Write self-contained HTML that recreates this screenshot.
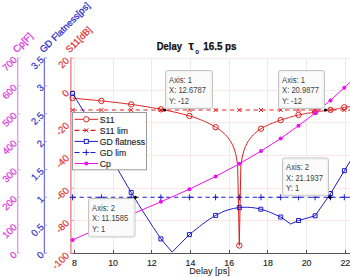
<!DOCTYPE html><html><head><meta charset="utf-8"><style>html,body{margin:0;padding:0;background:#fff;width:350px;height:277px;overflow:hidden}svg{display:block}text{font-family:"Liberation Sans",sans-serif}</style></head><body>
<svg width="350" height="277" viewBox="0 0 350 277">
<rect width="350" height="277" fill="#fff"/>
<g shape-rendering="crispEdges">
<line x1="74.5" y1="58" x2="74.5" y2="253" stroke="#ebebeb" stroke-width="1"/>
<line x1="113.5" y1="58" x2="113.5" y2="253" stroke="#ebebeb" stroke-width="1"/>
<line x1="151.5" y1="58" x2="151.5" y2="253" stroke="#ebebeb" stroke-width="1"/>
<line x1="190.5" y1="58" x2="190.5" y2="253" stroke="#ebebeb" stroke-width="1"/>
<line x1="229.5" y1="58" x2="229.5" y2="253" stroke="#ebebeb" stroke-width="1"/>
<line x1="267.5" y1="58" x2="267.5" y2="253" stroke="#ebebeb" stroke-width="1"/>
<line x1="306.5" y1="58" x2="306.5" y2="253" stroke="#ebebeb" stroke-width="1"/>
<line x1="345.5" y1="58" x2="345.5" y2="253" stroke="#ebebeb" stroke-width="1"/>
<line x1="72" y1="58.5" x2="350" y2="58.5" stroke="#fce6e6" stroke-width="1"/>
<line x1="72" y1="90.5" x2="350" y2="90.5" stroke="#fce6e6" stroke-width="1"/>
<line x1="72" y1="122.5" x2="350" y2="122.5" stroke="#fce6e6" stroke-width="1"/>
<line x1="72" y1="155.5" x2="350" y2="155.5" stroke="#fce6e6" stroke-width="1"/>
<line x1="72" y1="188.5" x2="350" y2="188.5" stroke="#fce6e6" stroke-width="1"/>
<line x1="72" y1="220.5" x2="350" y2="220.5" stroke="#fce6e6" stroke-width="1"/>
</g>
<g shape-rendering="crispEdges"><line x1="71" y1="253.5" x2="350" y2="253.5" stroke="#555" stroke-width="1"/>
<line x1="74.5" y1="250" x2="74.5" y2="253" stroke="#555" stroke-width="1"/>
<line x1="113.5" y1="250" x2="113.5" y2="253" stroke="#555" stroke-width="1"/>
<line x1="151.5" y1="250" x2="151.5" y2="253" stroke="#555" stroke-width="1"/>
<line x1="190.5" y1="250" x2="190.5" y2="253" stroke="#555" stroke-width="1"/>
<line x1="229.5" y1="250" x2="229.5" y2="253" stroke="#555" stroke-width="1"/>
<line x1="267.5" y1="250" x2="267.5" y2="253" stroke="#555" stroke-width="1"/>
<line x1="306.5" y1="250" x2="306.5" y2="253" stroke="#555" stroke-width="1"/>
<line x1="345.5" y1="250" x2="345.5" y2="253" stroke="#555" stroke-width="1"/>
</g>
<g><line x1="70.9" y1="57.6" x2="70.9" y2="254" stroke="#ec7a82" stroke-width="1.3"/><line x1="70.9" y1="58.00" x2="73.7" y2="58.00" stroke="#f0a0a0" stroke-width="1"/><line x1="70.9" y1="90.50" x2="73.7" y2="90.50" stroke="#f0a0a0" stroke-width="1"/><line x1="70.9" y1="123.00" x2="73.7" y2="123.00" stroke="#f0a0a0" stroke-width="1"/><line x1="70.9" y1="155.50" x2="73.7" y2="155.50" stroke="#f0a0a0" stroke-width="1"/><line x1="70.9" y1="188.00" x2="73.7" y2="188.00" stroke="#f0a0a0" stroke-width="1"/><line x1="70.9" y1="220.50" x2="73.7" y2="220.50" stroke="#f0a0a0" stroke-width="1"/><line x1="70.9" y1="253.00" x2="73.7" y2="253.00" stroke="#f0a0a0" stroke-width="1"/></g>
<g><line x1="44.4" y1="57.6" x2="44.4" y2="254" stroke="#7474da" stroke-width="1.3"/><line x1="44.4" y1="58.00" x2="47.199999999999996" y2="58.00" stroke="#a0a0e6" stroke-width="1"/><line x1="44.4" y1="85.86" x2="47.199999999999996" y2="85.86" stroke="#a0a0e6" stroke-width="1"/><line x1="44.4" y1="113.71" x2="47.199999999999996" y2="113.71" stroke="#a0a0e6" stroke-width="1"/><line x1="44.4" y1="141.57" x2="47.199999999999996" y2="141.57" stroke="#a0a0e6" stroke-width="1"/><line x1="44.4" y1="169.43" x2="47.199999999999996" y2="169.43" stroke="#a0a0e6" stroke-width="1"/><line x1="44.4" y1="197.29" x2="47.199999999999996" y2="197.29" stroke="#a0a0e6" stroke-width="1"/><line x1="44.4" y1="225.14" x2="47.199999999999996" y2="225.14" stroke="#a0a0e6" stroke-width="1"/><line x1="44.4" y1="253.00" x2="47.199999999999996" y2="253.00" stroke="#a0a0e6" stroke-width="1"/></g>
<g><line x1="17.7" y1="57.6" x2="17.7" y2="254" stroke="#dc98e8" stroke-width="1.3"/><line x1="17.7" y1="58.00" x2="20.5" y2="58.00" stroke="#e8b8ee" stroke-width="1"/><line x1="17.7" y1="85.86" x2="20.5" y2="85.86" stroke="#e8b8ee" stroke-width="1"/><line x1="17.7" y1="113.71" x2="20.5" y2="113.71" stroke="#e8b8ee" stroke-width="1"/><line x1="17.7" y1="141.57" x2="20.5" y2="141.57" stroke="#e8b8ee" stroke-width="1"/><line x1="17.7" y1="169.43" x2="20.5" y2="169.43" stroke="#e8b8ee" stroke-width="1"/><line x1="17.7" y1="197.29" x2="20.5" y2="197.29" stroke="#e8b8ee" stroke-width="1"/><line x1="17.7" y1="225.14" x2="20.5" y2="225.14" stroke="#e8b8ee" stroke-width="1"/><line x1="17.7" y1="253.00" x2="20.5" y2="253.00" stroke="#e8b8ee" stroke-width="1"/></g>
<text transform="translate(67.2,58.8) rotate(-45)" text-anchor="end" dominant-baseline="central" font-size="9.6" fill="#e03030" stroke="#e03030" stroke-width="0.18">20</text>
<text transform="translate(67.2,91.3) rotate(-45)" text-anchor="end" dominant-baseline="central" font-size="9.6" fill="#e03030" stroke="#e03030" stroke-width="0.18">0</text>
<text transform="translate(67.2,123.8) rotate(-45)" text-anchor="end" dominant-baseline="central" font-size="9.6" fill="#e03030" stroke="#e03030" stroke-width="0.18">-20</text>
<text transform="translate(67.2,156.3) rotate(-45)" text-anchor="end" dominant-baseline="central" font-size="9.6" fill="#e03030" stroke="#e03030" stroke-width="0.18">-40</text>
<text transform="translate(67.2,188.8) rotate(-45)" text-anchor="end" dominant-baseline="central" font-size="9.6" fill="#e03030" stroke="#e03030" stroke-width="0.18">-60</text>
<text transform="translate(67.2,221.3) rotate(-45)" text-anchor="end" dominant-baseline="central" font-size="9.6" fill="#e03030" stroke="#e03030" stroke-width="0.18">-80</text>
<text transform="translate(67.2,253.8) rotate(-45)" text-anchor="end" dominant-baseline="central" font-size="9.6" fill="#e03030" stroke="#e03030" stroke-width="0.18">-100</text>
<text transform="translate(42,58.0) rotate(-45)" text-anchor="end" dominant-baseline="central" font-size="9.6" fill="#3030c0" stroke="#3030c0" stroke-width="0.18">3.5</text>
<text transform="translate(42,85.85714285714286) rotate(-45)" text-anchor="end" dominant-baseline="central" font-size="9.6" fill="#3030c0" stroke="#3030c0" stroke-width="0.18">3</text>
<text transform="translate(42,113.71428571428572) rotate(-45)" text-anchor="end" dominant-baseline="central" font-size="9.6" fill="#3030c0" stroke="#3030c0" stroke-width="0.18">2.5</text>
<text transform="translate(42,141.57142857142856) rotate(-45)" text-anchor="end" dominant-baseline="central" font-size="9.6" fill="#3030c0" stroke="#3030c0" stroke-width="0.18">2</text>
<text transform="translate(42,169.42857142857144) rotate(-45)" text-anchor="end" dominant-baseline="central" font-size="9.6" fill="#3030c0" stroke="#3030c0" stroke-width="0.18">1.5</text>
<text transform="translate(42,197.28571428571428) rotate(-45)" text-anchor="end" dominant-baseline="central" font-size="9.6" fill="#3030c0" stroke="#3030c0" stroke-width="0.18">1</text>
<text transform="translate(42,225.14285714285714) rotate(-45)" text-anchor="end" dominant-baseline="central" font-size="9.6" fill="#3030c0" stroke="#3030c0" stroke-width="0.18">0.5</text>
<text transform="translate(42,253.0) rotate(-45)" text-anchor="end" dominant-baseline="central" font-size="9.6" fill="#3030c0" stroke="#3030c0" stroke-width="0.18">0</text>
<text transform="translate(15,58.0) rotate(-45)" text-anchor="end" dominant-baseline="central" font-size="9.6" fill="#e030e0" stroke="#e030e0" stroke-width="0.18">700</text>
<text transform="translate(15,85.85714285714286) rotate(-45)" text-anchor="end" dominant-baseline="central" font-size="9.6" fill="#e030e0" stroke="#e030e0" stroke-width="0.18">600</text>
<text transform="translate(15,113.71428571428572) rotate(-45)" text-anchor="end" dominant-baseline="central" font-size="9.6" fill="#e030e0" stroke="#e030e0" stroke-width="0.18">500</text>
<text transform="translate(15,141.57142857142856) rotate(-45)" text-anchor="end" dominant-baseline="central" font-size="9.6" fill="#e030e0" stroke="#e030e0" stroke-width="0.18">400</text>
<text transform="translate(15,169.42857142857144) rotate(-45)" text-anchor="end" dominant-baseline="central" font-size="9.6" fill="#e030e0" stroke="#e030e0" stroke-width="0.18">300</text>
<text transform="translate(15,197.28571428571428) rotate(-45)" text-anchor="end" dominant-baseline="central" font-size="9.6" fill="#e030e0" stroke="#e030e0" stroke-width="0.18">200</text>
<text transform="translate(15,225.14285714285714) rotate(-45)" text-anchor="end" dominant-baseline="central" font-size="9.6" fill="#e030e0" stroke="#e030e0" stroke-width="0.18">100</text>
<text transform="translate(15,253.0) rotate(-45)" text-anchor="end" dominant-baseline="central" font-size="9.6" fill="#e030e0" stroke="#e030e0" stroke-width="0.18">0</text>
<text transform="translate(69.5,53.3) rotate(-45)" font-size="9.3" fill="#e03030" stroke="#e03030" stroke-width="0.25">S11[dB]</text>
<text transform="translate(43.5,53.3) rotate(-45)" font-size="9.3" fill="#2a2ac8" stroke="#2a2ac8" stroke-width="0.25">GD Flatness[ps]</text>
<text transform="translate(16.8,53.3) rotate(-45)" font-size="9.6" fill="#e030e0" stroke="#e030e0" stroke-width="0.25">Cp[F]</text>
<text x="74.4" y="266.3" text-anchor="middle" font-size="8.8" fill="#262626" stroke="#262626" stroke-width="0.15">8</text>
<text x="113.1" y="266.3" text-anchor="middle" font-size="8.8" fill="#262626" stroke="#262626" stroke-width="0.15">10</text>
<text x="151.8" y="266.3" text-anchor="middle" font-size="8.8" fill="#262626" stroke="#262626" stroke-width="0.15">12</text>
<text x="190.5" y="266.3" text-anchor="middle" font-size="8.8" fill="#262626" stroke="#262626" stroke-width="0.15">14</text>
<text x="229.2" y="266.3" text-anchor="middle" font-size="8.8" fill="#262626" stroke="#262626" stroke-width="0.15">16</text>
<text x="267.9" y="266.3" text-anchor="middle" font-size="8.8" fill="#262626" stroke="#262626" stroke-width="0.15">18</text>
<text x="306.6" y="266.3" text-anchor="middle" font-size="8.8" fill="#262626" stroke="#262626" stroke-width="0.15">20</text>
<text x="345.3" y="266.3" text-anchor="middle" font-size="8.8" fill="#262626" stroke="#262626" stroke-width="0.15">22</text>
<text x="209.5" y="274" text-anchor="middle" font-size="9.1" fill="#262626" stroke="#262626" stroke-width="0.08">Delay [ps]</text>
<text x="156.8" y="50" font-size="10.5" font-weight="bold" fill="#111" stroke="#111" stroke-width="0.25" textLength="25.2" lengthAdjust="spacingAndGlyphs">Delay</text>
<text x="188.6" y="50" font-size="12" font-weight="bold" fill="#111" stroke="#111" stroke-width="0.15">τ</text>
<text x="195.3" y="54" font-size="6.3" font-weight="bold" fill="#111">o</text>
<text x="203.2" y="49.8" font-size="10.5" font-weight="bold" fill="#111" stroke="#111" stroke-width="0.25" textLength="33.4" lengthAdjust="spacingAndGlyphs">16.5 ps</text>
<defs><clipPath id="c"><rect x="66" y="54" width="290" height="203"/></clipPath></defs>
<g clip-path="url(#c)" fill="none" stroke-linejoin="round">
<polyline points="72.60,98.10 74.66,98.29 76.71,98.47 78.77,98.66 80.83,98.86 82.89,99.05 84.94,99.25 87.00,99.45 89.06,99.65 91.11,99.85 93.17,100.05 95.23,100.26 97.29,100.47 99.34,100.68 101.40,100.90 103.53,101.13 105.66,101.35 107.79,101.58 109.91,101.82 112.04,102.06 114.17,102.30 116.30,102.54 118.43,102.79 120.56,103.05 122.69,103.31 124.81,103.57 126.94,103.84 129.07,104.12 131.20,104.40 133.32,104.69 135.44,104.99 137.56,105.30 139.69,105.63 141.81,105.96 143.93,106.30 146.05,106.65 148.17,107.00 150.29,107.37 152.41,107.74 154.54,108.12 156.66,108.51 158.78,108.90 160.90,109.30 162.94,109.69 164.97,110.09 167.01,110.49 169.04,110.91 171.08,111.34 173.11,111.78 175.15,112.23 177.19,112.70 179.22,113.18 181.26,113.69 183.29,114.21 185.33,114.75 187.36,115.31 189.40,115.90 191.27,116.47 193.14,117.06 195.01,117.68 196.89,118.34 198.76,119.02 200.63,119.74 202.50,120.50 204.37,121.30 206.24,122.14 208.11,123.03 209.99,123.98 211.86,124.98 213.73,126.05 215.60,127.20 217.29,128.25 218.99,129.38 220.68,130.60 222.37,131.95 224.06,133.44 225.76,135.10 227.45,136.98 229.14,139.16 230.84,141.73 232.53,144.88 234.22,148.94 235.91,154.67 237.61,164.45 239.30,245.50 240.85,165.95 242.40,156.17 243.95,150.44 245.50,146.38 247.05,143.23 248.60,140.66 250.15,138.48 251.70,136.60 253.25,134.94 254.80,133.45 256.35,132.10 257.90,130.88 259.45,129.75 261.00,128.70 262.41,127.87 263.81,127.09 265.22,126.36 266.63,125.67 268.04,125.01 269.44,124.38 270.85,123.78 272.26,123.20 273.66,122.65 275.07,122.11 276.48,121.59 277.89,121.08 279.29,120.58 280.70,120.10 281.97,119.67 283.24,119.26 284.51,118.85 285.79,118.45 287.06,118.07 288.33,117.69 289.60,117.33 290.87,116.97 292.14,116.62 293.41,116.28 294.69,115.95 295.96,115.62 297.23,115.31 298.50,115.00 299.69,114.73 300.87,114.47 302.06,114.23 303.24,114.00 304.43,113.78 305.61,113.58 306.80,113.38 307.99,113.19 309.17,113.00 310.36,112.82 311.54,112.64 312.73,112.46 313.91,112.28 315.10,112.10 316.20,111.93 317.30,111.77 318.40,111.61 319.50,111.45 320.60,111.30 321.70,111.15 322.80,111.00 323.90,110.85 325.00,110.70 326.10,110.54 327.20,110.39 328.30,110.23 329.40,110.07 330.50,109.90 331.49,109.74 332.47,109.58 333.46,109.42 334.44,109.24 335.43,109.07 336.41,108.89 337.40,108.70 338.39,108.51 339.37,108.32 340.36,108.12 341.34,107.92 342.33,107.71 343.31,107.51 344.30,107.30 352.00,106.60" stroke="#dc2020" stroke-width="1"/>
<circle cx="72.6" cy="98.1" r="2.7" stroke="#dc2020" stroke-width="1"/>
<circle cx="101.4" cy="100.9" r="2.7" stroke="#dc2020" stroke-width="1"/>
<circle cx="131.2" cy="104.4" r="2.7" stroke="#dc2020" stroke-width="1"/>
<circle cx="160.9" cy="109.3" r="2.7" stroke="#dc2020" stroke-width="1"/>
<circle cx="189.4" cy="115.9" r="2.7" stroke="#dc2020" stroke-width="1"/>
<circle cx="215.6" cy="127.2" r="2.7" stroke="#dc2020" stroke-width="1"/>
<circle cx="239.3" cy="245.5" r="2.7" stroke="#dc2020" stroke-width="1"/>
<circle cx="261.0" cy="128.7" r="2.7" stroke="#dc2020" stroke-width="1"/>
<circle cx="280.7" cy="120.1" r="2.7" stroke="#dc2020" stroke-width="1"/>
<circle cx="298.5" cy="115.0" r="2.7" stroke="#dc2020" stroke-width="1"/>
<circle cx="315.1" cy="112.1" r="2.7" stroke="#dc2020" stroke-width="1"/>
<circle cx="330.5" cy="109.9" r="2.7" stroke="#dc2020" stroke-width="1"/>
<circle cx="344.3" cy="107.3" r="2.7" stroke="#dc2020" stroke-width="1"/>
<line x1="72.6" y1="110" x2="352" y2="110" stroke="#dc2020" stroke-width="1.1" stroke-dasharray="4.3 3.57"/>
<path d="M70.6,108 l4,4 M70.6,112 l4,-4" stroke="#dc2020" stroke-width="1"/>
<path d="M99.4,108 l4,4 M99.4,112 l4,-4" stroke="#dc2020" stroke-width="1"/>
<path d="M129.2,108 l4,4 M129.2,112 l4,-4" stroke="#dc2020" stroke-width="1"/>
<path d="M158.9,108 l4,4 M158.9,112 l4,-4" stroke="#dc2020" stroke-width="1"/>
<path d="M187.4,108 l4,4 M187.4,112 l4,-4" stroke="#dc2020" stroke-width="1"/>
<path d="M213.6,108 l4,4 M213.6,112 l4,-4" stroke="#dc2020" stroke-width="1"/>
<path d="M237.3,108 l4,4 M237.3,112 l4,-4" stroke="#dc2020" stroke-width="1"/>
<path d="M259.0,108 l4,4 M259.0,112 l4,-4" stroke="#dc2020" stroke-width="1"/>
<path d="M278.7,108 l4,4 M278.7,112 l4,-4" stroke="#dc2020" stroke-width="1"/>
<path d="M296.5,108 l4,4 M296.5,112 l4,-4" stroke="#dc2020" stroke-width="1"/>
<path d="M313.1,108 l4,4 M313.1,112 l4,-4" stroke="#dc2020" stroke-width="1"/>
<path d="M328.5,108 l4,4 M328.5,112 l4,-4" stroke="#dc2020" stroke-width="1"/>
<path d="M342.3,108 l4,4 M342.3,112 l4,-4" stroke="#dc2020" stroke-width="1"/>
<polyline points="72.60,93.50 76.21,99.31 79.81,105.13 83.43,110.99 87.04,116.88 90.67,122.84 94.30,128.87 97.94,134.98 101.60,141.20 105.27,147.53 108.95,153.94 112.65,160.40 116.35,166.89 120.06,173.36 123.77,179.80 127.48,186.15 131.20,192.40 134.92,198.52 138.63,204.51 142.34,210.40 146.06,216.21 149.77,221.94 153.48,227.62 157.19,233.27 160.90,238.90 172.10,252.10 189.40,234.60 192.74,231.89 196.08,229.22 199.40,226.60 202.70,224.07 205.98,221.65 209.23,219.38 212.44,217.29 215.60,215.40 218.71,213.74 221.78,212.30 224.80,211.07 227.78,210.03 230.71,209.18 233.61,208.50 236.47,207.98 239.30,207.60 242.10,207.36 244.86,207.25 247.59,207.27 250.29,207.42 252.97,207.69 255.61,208.07 258.22,208.58 260.80,209.20 263.35,209.93 265.88,210.76 268.38,211.67 270.87,212.65 273.34,213.69 275.80,214.77 278.25,215.88 280.70,217.00 290.70,224.00 298.50,220.50 315.10,215.80 330.60,193.50 344.40,170.70 352.00,158.20" stroke="#1c1cc8" stroke-width="1"/>
<rect x="70.6" y="91.5" width="4" height="4" stroke="#1c1cc8" stroke-width="1"/>
<rect x="99.6" y="139.2" width="4" height="4" stroke="#1c1cc8" stroke-width="1"/>
<rect x="129.2" y="190.4" width="4" height="4" stroke="#1c1cc8" stroke-width="1"/>
<rect x="158.9" y="236.9" width="4" height="4" stroke="#1c1cc8" stroke-width="1"/>
<rect x="187.4" y="232.6" width="4" height="4" stroke="#1c1cc8" stroke-width="1"/>
<rect x="213.6" y="213.4" width="4" height="4" stroke="#1c1cc8" stroke-width="1"/>
<rect x="237.3" y="205.6" width="4" height="4" stroke="#1c1cc8" stroke-width="1"/>
<rect x="258.8" y="207.2" width="4" height="4" stroke="#1c1cc8" stroke-width="1"/>
<rect x="278.7" y="215.0" width="4" height="4" stroke="#1c1cc8" stroke-width="1"/>
<rect x="296.5" y="218.5" width="4" height="4" stroke="#1c1cc8" stroke-width="1"/>
<rect x="313.1" y="213.8" width="4" height="4" stroke="#1c1cc8" stroke-width="1"/>
<rect x="328.6" y="191.5" width="4" height="4" stroke="#1c1cc8" stroke-width="1"/>
<rect x="342.4" y="168.7" width="4" height="4" stroke="#1c1cc8" stroke-width="1"/>
<line x1="71.67" y1="197.3" x2="352" y2="197.3" stroke="#1c1cc8" stroke-width="1.1" stroke-dasharray="4.3 3.57"/>
<path d="M69.6,197.3 h6 M72.6,194.3 v6" stroke="#1c1cc8" stroke-width="1"/>
<path d="M98.4,197.3 h6 M101.4,194.3 v6" stroke="#1c1cc8" stroke-width="1"/>
<path d="M128.2,197.3 h6 M131.2,194.3 v6" stroke="#1c1cc8" stroke-width="1"/>
<path d="M157.9,197.3 h6 M160.9,194.3 v6" stroke="#1c1cc8" stroke-width="1"/>
<path d="M186.4,197.3 h6 M189.4,194.3 v6" stroke="#1c1cc8" stroke-width="1"/>
<path d="M212.6,197.3 h6 M215.6,194.3 v6" stroke="#1c1cc8" stroke-width="1"/>
<path d="M236.3,197.3 h6 M239.3,194.3 v6" stroke="#1c1cc8" stroke-width="1"/>
<path d="M258.0,197.3 h6 M261.0,194.3 v6" stroke="#1c1cc8" stroke-width="1"/>
<path d="M277.7,197.3 h6 M280.7,194.3 v6" stroke="#1c1cc8" stroke-width="1"/>
<path d="M295.5,197.3 h6 M298.5,194.3 v6" stroke="#1c1cc8" stroke-width="1"/>
<path d="M312.1,197.3 h6 M315.1,194.3 v6" stroke="#1c1cc8" stroke-width="1"/>
<path d="M327.5,197.3 h6 M330.5,194.3 v6" stroke="#1c1cc8" stroke-width="1"/>
<path d="M341.3,197.3 h6 M344.3,194.3 v6" stroke="#1c1cc8" stroke-width="1"/>
<polyline points="72.60,239.90 101.40,227.21 131.20,214.53 160.90,201.84 189.40,189.16 215.60,176.47 239.30,163.78 261.00,151.10 280.70,138.41 298.50,125.73 315.10,113.04 330.50,100.35 344.30,87.67 352.00,80.59" stroke="#ee10ee" stroke-width="1"/>
<circle cx="72.6" cy="239.9" r="2" fill="#ee10ee" stroke="none"/>
<circle cx="101.4" cy="227.2" r="2" fill="#ee10ee" stroke="none"/>
<circle cx="131.2" cy="214.5" r="2" fill="#ee10ee" stroke="none"/>
<circle cx="160.9" cy="201.8" r="2" fill="#ee10ee" stroke="none"/>
<circle cx="189.4" cy="189.2" r="2" fill="#ee10ee" stroke="none"/>
<circle cx="215.6" cy="176.5" r="2" fill="#ee10ee" stroke="none"/>
<circle cx="239.3" cy="163.8" r="2" fill="#ee10ee" stroke="none"/>
<circle cx="261.0" cy="151.1" r="2" fill="#ee10ee" stroke="none"/>
<circle cx="280.7" cy="138.4" r="2" fill="#ee10ee" stroke="none"/>
<circle cx="298.5" cy="125.7" r="2" fill="#ee10ee" stroke="none"/>
<circle cx="315.1" cy="113.0" r="2" fill="#ee10ee" stroke="none"/>
<circle cx="330.5" cy="100.4" r="2" fill="#ee10ee" stroke="none"/>
<circle cx="344.3" cy="87.7" r="2" fill="#ee10ee" stroke="none"/>
</g>
<g>
<rect x="72.5" y="112.5" width="74" height="57.3" fill="#fff" stroke="#999" stroke-width="1"/>
<line x1="74.5" y1="119.3" x2="98" y2="119.3" stroke="#dc2020" stroke-width="1"/>
<circle cx="86.3" cy="119.3" r="2.7" fill="#fff" stroke="#dc2020" stroke-width="1"/>
<text x="99.7" y="122.6" font-size="9.6" textLength="14.83" lengthAdjust="spacingAndGlyphs" fill="#262626" stroke="#262626" stroke-width="0.15">S11</text>
<line x1="74.5" y1="130.35" x2="98" y2="130.35" stroke="#dc2020" stroke-width="1.1" stroke-dasharray="5 3"/>
<path d="M84.3,128.35 l4,4 M84.3,132.35 l4,-4" stroke="#dc2020" stroke-width="1"/>
<text x="99.7" y="133.7" font-size="9.6" textLength="28.36" lengthAdjust="spacingAndGlyphs" fill="#262626" stroke="#262626" stroke-width="0.15">S11 lim</text>
<line x1="74.5" y1="141.4" x2="98" y2="141.4" stroke="#1c1cc8" stroke-width="1"/>
<rect x="84.3" y="139.4" width="4" height="4" fill="#fff" stroke="#1c1cc8" stroke-width="1"/>
<text x="99.7" y="144.7" font-size="9.6" textLength="45.45" lengthAdjust="spacingAndGlyphs" fill="#262626" stroke="#262626" stroke-width="0.15">GD flatness</text>
<line x1="74.5" y1="152.45" x2="98" y2="152.45" stroke="#1c1cc8" stroke-width="1.1" stroke-dasharray="5 3"/>
<path d="M83.3,152.45 h6 M86.3,149.45 v6" stroke="#1c1cc8" stroke-width="1"/>
<text x="99.7" y="155.8" font-size="9.6" textLength="26.58" lengthAdjust="spacingAndGlyphs" fill="#262626" stroke="#262626" stroke-width="0.15">GD lim</text>
<line x1="74.5" y1="163.5" x2="98" y2="163.5" stroke="#ee10ee" stroke-width="1"/>
<circle cx="86.3" cy="163.5" r="2" fill="#ee10ee"/>
<text x="99.7" y="166.8" font-size="9.6" textLength="11.12" lengthAdjust="spacingAndGlyphs" fill="#262626" stroke="#262626" stroke-width="0.15">Cp</text>
</g>
<rect x="165.5" y="70.5" width="47.0" height="38.0" rx="2.2" fill="#fbfbfb" stroke="#c4c4c4" stroke-width="1"/><rect x="166.8" y="71.8" width="44.4" height="35.4" rx="1.2" fill="none" stroke="#ececec" stroke-width="0.8"/><text x="169.1" y="82.7" font-size="8.4" textLength="22.81" lengthAdjust="spacingAndGlyphs" fill="#404040">Axis: 1</text><text x="169.1" y="93.2" font-size="8.4" textLength="36.76" lengthAdjust="spacingAndGlyphs" fill="#404040">X: 12.6787</text><text x="169.1" y="103.7" font-size="8.4" textLength="19.86" lengthAdjust="spacingAndGlyphs" fill="#404040">Y: -12</text>
<rect x="278.5" y="70.5" width="46.0" height="38.0" rx="2.2" fill="#fbfbfb" stroke="#c4c4c4" stroke-width="1"/><rect x="279.8" y="71.8" width="43.4" height="35.4" rx="1.2" fill="none" stroke="#ececec" stroke-width="0.8"/><text x="282.1" y="82.7" font-size="8.4" textLength="22.81" lengthAdjust="spacingAndGlyphs" fill="#404040">Axis: 1</text><text x="282.1" y="93.2" font-size="8.4" textLength="36.76" lengthAdjust="spacingAndGlyphs" fill="#404040">X: 20.9877</text><text x="282.1" y="103.7" font-size="8.4" textLength="19.86" lengthAdjust="spacingAndGlyphs" fill="#404040">Y: -12</text>
<rect x="88.5" y="198.5" width="46.5" height="38.5" rx="2.2" fill="#fbfbfb" stroke="#c4c4c4" stroke-width="1"/><rect x="89.8" y="199.8" width="43.9" height="35.9" rx="1.2" fill="none" stroke="#ececec" stroke-width="0.8"/><text x="92.1" y="210.7" font-size="8.4" textLength="22.81" lengthAdjust="spacingAndGlyphs" fill="#404040">Axis: 2</text><text x="92.1" y="221.2" font-size="8.4" textLength="36.20" lengthAdjust="spacingAndGlyphs" fill="#404040">X: 11.1585</text><text x="92.1" y="231.7" font-size="8.4" textLength="13.10" lengthAdjust="spacingAndGlyphs" fill="#404040">Y: 1</text>
<rect x="282.5" y="158" width="46.0" height="37.80000000000001" rx="2.2" fill="#fbfbfb" stroke="#c4c4c4" stroke-width="1"/><rect x="283.8" y="159.3" width="43.4" height="35.20000000000001" rx="1.2" fill="none" stroke="#ececec" stroke-width="0.8"/><text x="286.1" y="170.2" font-size="8.4" textLength="22.81" lengthAdjust="spacingAndGlyphs" fill="#404040">Axis: 2</text><text x="286.1" y="180.7" font-size="8.4" textLength="36.76" lengthAdjust="spacingAndGlyphs" fill="#404040">X: 21.1937</text><text x="286.1" y="191.2" font-size="8.4" textLength="13.10" lengthAdjust="spacingAndGlyphs" fill="#404040">Y: 1</text>
<circle cx="164.6" cy="110" r="1.6" fill="#000"/>
<circle cx="325.4" cy="110" r="1.6" fill="#000"/>
<circle cx="135.3" cy="197.3" r="1.6" fill="#000"/>
<circle cx="330" cy="197.3" r="1.6" fill="#000"/>
</svg></body></html>
